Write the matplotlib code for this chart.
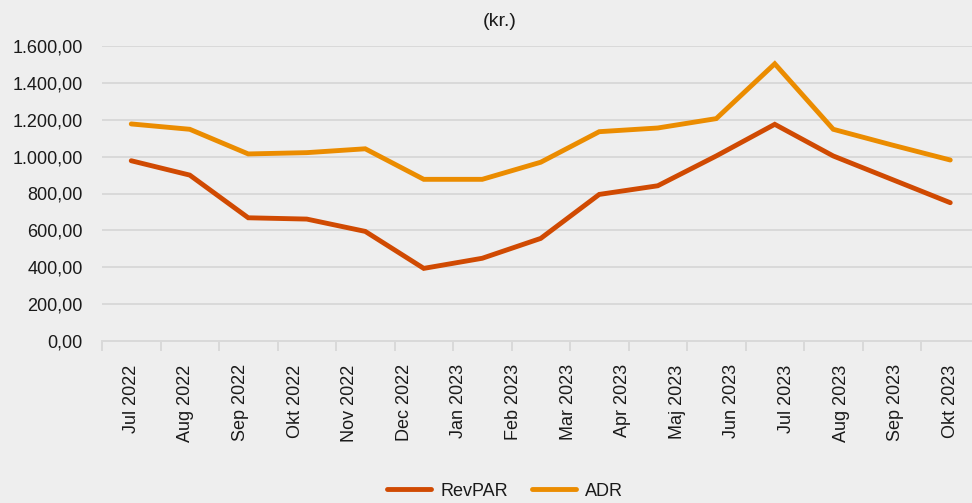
import matplotlib
matplotlib.use("Agg")
import matplotlib.pyplot as plt
import numpy as np

plt.rcParams['font.family'] = ['Liberation Sans', 'DejaVu Sans']

categories = ["Jul 2022", "Aug 2022", "Sep 2022", "Okt 2022", "Nov 2022", "Dec 2022",
              "Jan 2023", "Feb 2023", "Mar 2023", "Apr 2023", "Maj 2023", "Jun 2023",
              "Jul 2023", "Aug 2023", "Sep 2023", "Okt 2023"]
revpar = [978, 900, 668, 661, 594, 393, 448, 556, 795, 842, 1004, 1176, 1004, 877, 750]
adr = [1178, 1149, 1015, 1022, 1043, 877, 877, 970, 1136, 1156, 1207, 1505, 1149, 1064, 982]
yticks = [0, 200, 400, 600, 800, 1000, 1200, 1400, 1600]

def fmt(v):
    s = f"{v:,.2f}"
    return s.replace(",", "X").replace(".", ",").replace("X", ".")

bg = "#eeeeee"
grid = "#d9d9d9"
c_rev = "#d04a02"
c_adr = "#eb8c00"

fig = plt.figure(figsize=(9.72, 5.03), dpi=100, facecolor=bg)
ax = fig.add_axes([102/972, 162.3/503, 877.5/972, 294.4/503])
ax.set_facecolor(bg)

n = len(revpar)
x = np.arange(n)
ax.plot(x, revpar, color=c_rev, lw=3.5, solid_capstyle='round', solid_joinstyle='miter', label="RevPAR", zorder=3)
ax.plot(x, adr, color=c_adr, lw=3.5, solid_capstyle='round', solid_joinstyle='miter', label="ADR", zorder=3)

ax.set_xlim(-0.5, n - 0.5)
ax.set_ylim(0, 1600)
ax.set_yticks(yticks)
ax.set_yticklabels([fmt(v) for v in yticks], fontsize=13, color="#1a1a1a")
ax.tick_params(axis='y', length=0, pad=14)
ax.grid(axis='y', color=grid, lw=1.4, zorder=0)
ax.set_axisbelow(True)

labpos = np.linspace(0, n - 1, len(categories))
ax.set_xticks(labpos)
ax.set_xticklabels(categories, rotation=90, fontsize=13, color="#1a1a1a")
ax.tick_params(axis='x', which='major', length=0, pad=17)
ax.set_xticks(np.arange(-0.5, n, 1.0), minor=True)
ax.tick_params(axis='x', which='minor', length=7, width=1.4, color=grid)

for s in ['top', 'right', 'left']:
    ax.spines[s].set_visible(False)
ax.spines['bottom'].set_color(grid)
ax.spines['bottom'].set_linewidth(1.4)

fig.text(500/972, 1 - 22/503, "(kr.)", ha='center', va='center', fontsize=14, color="#1a1a1a")

leg = fig.legend(loc='center', bbox_to_anchor=(505/972, 12/503), ncol=2, frameon=False,
                 fontsize=13, handlelength=2.45, handletextpad=0.5, columnspacing=1.3)
for t in leg.get_texts():
    t.set_color("#1a1a1a")

fig.savefig("out.png", dpi=100, facecolor=bg)
